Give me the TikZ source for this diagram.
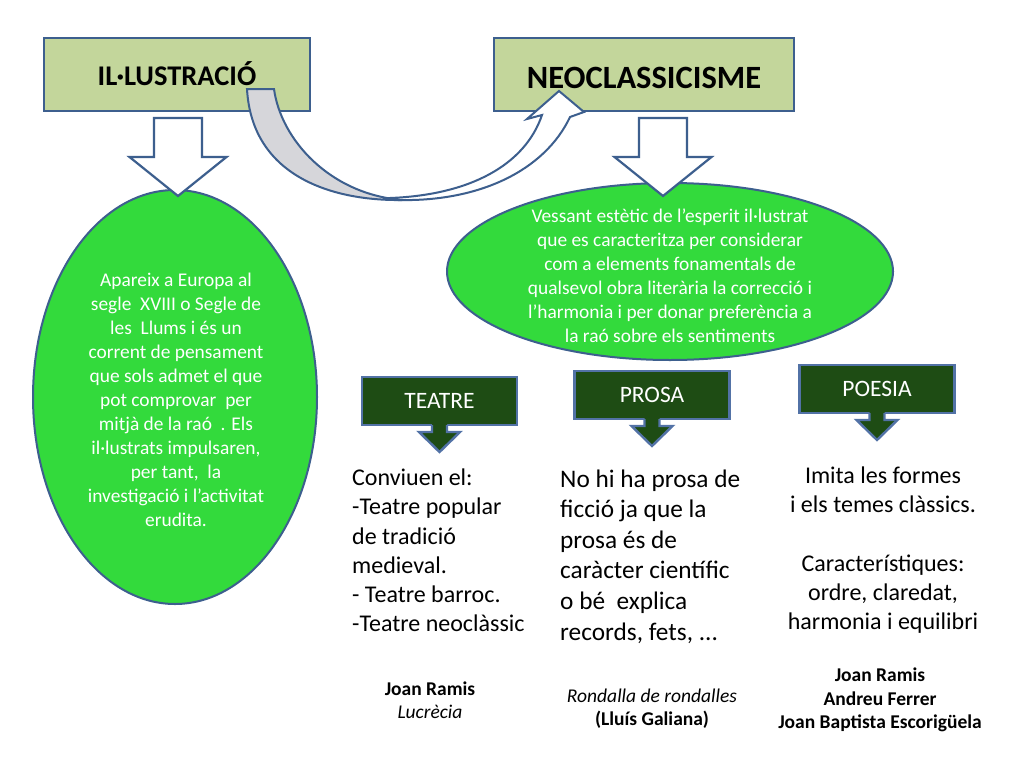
\documentclass[tikz,border=0pt]{standalone}
\usepackage{fontspec}
\setmainfont{Carlito}
\usetikzlibrary{calc,shapes.geometric}
\definecolor{olivebox}{HTML}{C3D69B}
\definecolor{edgeblue}{HTML}{3D5F8E}
\definecolor{edgelight}{HTML}{5272A6}
\definecolor{brgreen}{HTML}{33DA3C}
\definecolor{dkgreen}{HTML}{1E4C14}
\definecolor{arrgray}{HTML}{D6D6DA}
\begin{document}
\begin{tikzpicture}[x=1pt,y=-1pt,
  titlebox/.style={draw=edgeblue,line width=2.5pt,fill=olivebox,outer sep=0pt,
    minimum height=73pt,inner sep=0pt,text depth=0pt},
  genrebox/.style={draw=edgelight,line width=2.4pt,fill=dkgreen,outer sep=0pt,
    minimum width=155pt,minimum height=48pt,inner sep=0pt,text=white,
    font=\fontsize{23.5}{28}\selectfont},
  greenell/.style={ellipse,draw=edgeblue,line width=2pt,fill=brgreen,inner sep=0pt,outer sep=0pt},
  elltext/.style={text=white,align=center,inner sep=0pt,font=\fontsize{19.4}{24}\selectfont},
  bigarrow/.style={draw=edgeblue,line width=2.2pt,fill=white,line join=miter},
  smalledge/.style={draw=edgelight,line width=2.4pt,line join=miter},
  curvedge/.style={draw=edgeblue,line width=2pt,line join=miter},
  bodytext/.style={inner sep=0pt,text=black},
  reftext/.style={inner sep=0pt,align=center,font=\fontsize{19.5}{23.5}\selectfont}
]
\useasboundingbox (0,0) rectangle (1024,768);
\fill[white] (0,0) rectangle (1024,768);

% title boxes
\node[titlebox,minimum width=266pt,text height=22pt,font=\bfseries\fontsize{28.5}{33}\selectfont] (il) at (177,74.5) {IL·LUSTRACIÓ};
\node[titlebox,minimum width=300pt,text height=27pt,font=\bfseries\fontsize{32.5}{38}\selectfont] (neo) at (644,74.5) {NEOCLASSICISME};

% ellipses
\node[greenell,minimum width=284pt,minimum height=414pt] (ell1) at (175,397) {};
\node[elltext] (t1) at (176,400) {Apareix a Europa al\\segle \ XVIII o Segle de\\les \ Llums i és un\\corrent de pensament\\que sols admet el que\\pot comprovar \ per\\mitjà de la raó \ . Els\\il·lustrats impulsaren,\\per tant, \ la\\investigació i l’activitat\\erudita.};
\node[greenell,minimum width=446pt,minimum height=177pt] (ell2) at (670,271.5) {};
\node[elltext] (t2) at (670,276) {Vessant estètic de l’esperit il·lustrat\\que es caracteritza per considerar\\com a elements fonamentals de\\qualsevol obra literària la correcció i\\l’harmonia i per donar preferència a\\la raó sobre els sentiments};

% big down arrows
\coordinate (a1) at ($(il.south)+(1,7)$);
\coordinate (a2) at ($(neo.south)+(19,7)$);
\foreach \c in {a1,a2}{
  \draw[bigarrow] (\c) ++(-24,0) -- ++(48,0) -- ++(0,39) -- ++(24.5,0) -- ++(-48.5,39) -- ++(-48.5,-39) -- ++(24.5,0) -- cycle;
}

% curved arrow from IL to NEO
\coordinate (cstart) at (247,89);
\draw[curvedge,fill=white] (398,200) .. controls (480,202) and (545,170) .. (570,117) -- (584,112) -- (559,91) -- (527,119) -- (542,115) .. controls (525,165) and (470,195) .. (390,198) -- cycle;
\draw[curvedge,fill=arrgray] (cstart) .. controls (252,178) and (335,201) .. (402,200) .. controls (330,194) and (281,140) .. (274,89) -- cycle;

% genre boxes
\node[genrebox] (teatre) at (439.5,401) {TEATRE};
\node[genrebox] (prosa) at (652,395) {PROSA};
\node[genrebox] (poesia) at (877,389) {POESIA};
\foreach \b in {teatre,prosa,poesia}{
  \fill[dkgreen] ($(\b.south)+(-7.5,-2)$) -- ++(0,9) -- ++(-13,0) -- ++(20.5,20) -- ++(20.5,-20) -- ++(-13,0) -- ++(0,-9) -- cycle;
  \draw[smalledge] ($(\b.south)+(-7.5,0)$) -- ++(0,7) -- ++(-13,0) -- ++(20.5,20) -- ++(20.5,-20) -- ++(-13,0) -- ++(0,-7);
}

% body texts
\node[bodytext,anchor=west,align=left,font=\fontsize{24}{29.2}\selectfont] (tx1) at (352,550.5) {Conviuen el:\\-Teatre popular\\de tradició\\medieval.\\- Teatre barroc.\\-Teatre neoclàssic};
\node[bodytext,anchor=west,align=left,font=\fontsize{25.3}{30.6}\selectfont] (tx2) at (560,556.5) {No hi ha prosa de\\ficció ja que la\\prosa és de\\caràcter científic\\o bé \ explica\\records, fets, ...};
\node[bodytext,align=center,font=\fontsize{24}{29.2}\selectfont] (tx3) at (883,550) {Imita les formes\\i els temes clàssics.\\[29.2pt]Característiques:\\ordre, claredat,\\harmonia i equilibri};

% references
\node[reftext] (r1) at (430,700) {\textbf{Joan Ramis}\\\textit{Lucrècia}};
\node[reftext] (r2) at (652,708.5) {\textit{Rondalla de rondalles}\\\textbf{(Lluís Galiana)}};
\node[reftext,font=\bfseries\fontsize{19.5}{23.3}\selectfont] (r3) at (880,700) {Joan Ramis\\Andreu Ferrer\\Joan Baptista Escorigüela};
\end{tikzpicture}
\end{document}
